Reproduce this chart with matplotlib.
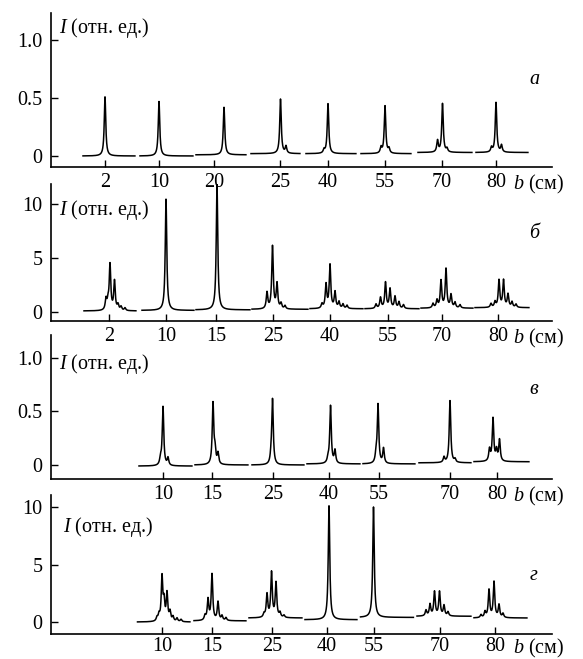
import numpy as np
import matplotlib
matplotlib.use("Agg")
import matplotlib.pyplot as plt

plt.rcParams['font.family'] = ['Liberation Serif', 'DejaVu Serif']
plt.rcParams['mathtext.fontset'] = 'custom'
plt.rcParams['mathtext.rm'] = 'Liberation Serif'
plt.rcParams['mathtext.it'] = 'Liberation Serif:italic'

# ---------------------------------------------------------
# Data: each panel = row of short profiles, one per distance b
# position units are arbitrary (read along the figure width)
# ---------------------------------------------------------
a_ticks = [105, 159, 214, 280, 328, 385, 442, 496]
a_labels = ['2', '10', '20', '25', '40', '55', '70', '80']
a_seg = [(83, 135), (140, 193), (196, 246), (251, 300), (306, 356), (361, 411), (418, 472), (476, 528)]
a_base = [0.0, 0.0, 0.01, 0.02, 0.02, 0.02, 0.03, 0.03]
a_peaks = [
    [(105, 0.51)],
    [(159, 0.47)],
    [(224, 0.41)],
    [(280.5, 0.47), (286, 0.06)],
    [(324, 0.03), (328, 0.43)],
    [(381, 0.05), (385, 0.41), (389, 0.04)],
    [(437.5, 0.10), (442.5, 0.42), (447, 0.03)],
    [(491.5, 0.04), (496, 0.43), (501.5, 0.06)],
]

b_ticks = [109, 166, 216, 273, 330, 388, 442, 498]
b_labels = ['2', '10', '15', '25', '40', '55', '70', '80']
b_seg = [(84, 136), (142, 194), (196, 250), (252, 308), (310, 363), (365, 419), (421, 473), (475, 529)]
b_base = [0.1, 0.15, 0.2, 0.25, 0.3, 0.3, 0.35, 0.4]
b_peaks = [
    [(106, 1.0), (108, 0.7), (110, 4.2), (114.5, 2.7), (118, 0.5), (121, 0.35), (125, 0.25)],
    [(166, 10.3)],
    [(217, 11.6)],
    [(267, 1.5), (272.5, 5.8), (277, 2.3), (281, 0.5), (285, 0.3)],
    [(322, 0.4), (326, 2.2), (330, 4.0), (335, 1.5), (339, 0.6), (343, 0.4), (347, 0.3)],
    [(376, 0.4), (380.5, 1.0), (385.5, 2.4), (390, 1.8), (395, 1.1), (399, 0.6), (403.5, 0.35)],
    [(433, 0.4), (437, 0.7), (441, 2.5), (446, 3.6), (451, 1.2), (455, 0.5), (460, 0.3)],
    [(491, 0.35), (495, 0.5), (499, 2.5), (503.5, 2.5), (508, 1.2), (512, 0.5), (516, 0.3)],
]

c_ticks = [163, 212, 273, 329, 379, 450, 497]
c_labels = ['10', '15', '25', '40', '55', '70', '80']
c_seg = [(139, 192), (195, 248), (252, 304), (307, 360), (363, 415), (419, 471), (474, 529)]
c_base = [-0.01, 0.0, 0.0, 0.01, 0.01, 0.02, 0.03]
c_peaks = [
    [(160.5, 0.06), (163, 0.55), (168, 0.07)],
    [(213, 0.57), (215, 0.12), (218, 0.10)],
    [(271, 0.05), (272.5, 0.61)],
    [(328, 0.04), (330.5, 0.54), (335, 0.12)],
    [(376, 0.07), (378, 0.55), (383.5, 0.14)],
    [(444, 0.05), (450, 0.58), (455, 0.03)],
    [(489.5, 0.11), (493, 0.40), (496.5, 0.10), (499.5, 0.20)],
]

d_ticks = [162, 212, 272, 327, 374, 440, 495]
d_labels = ['10', '15', '25', '40', '55', '70', '80']
d_seg = [(137.5, 190), (194, 246), (249, 302), (305, 357), (360.5, 413.5), (417, 471), (474, 527)]
d_base = [0.0, 0.1, 0.35, 0.2, 0.4, 0.5, 0.35]
d_peaks = [
    [(157, 0.3), (159, 0.5), (162, 3.8), (164, 1.6), (167, 2.4), (170, 0.8), (173, 0.4), (177, 0.3), (181, 0.2)],
    [(205, 0.4), (208, 1.8), (212, 4.0), (218, 1.6), (222, 0.4), (226, 0.25)],
    [(264, 0.3), (267, 2.0), (271.5, 3.9), (276, 3.0), (280, 0.4), (284, 0.2)],
    [(329, 9.9)],
    [(373.5, 9.6)],
    [(426, 0.5), (430, 1.0), (434.5, 2.1), (439.5, 2.1), (444, 0.9), (448, 0.35)],
    [(481, 0.25), (485, 0.5), (489, 2.4), (494, 3.1), (499, 1.1), (503, 0.35)],
]

panels = [
    dict(ticks=a_ticks, labels=a_labels, seg=a_seg, base=a_base, peaks=a_peaks,
         yticks=[0, 0.5, 1.0], yticklabels=['0', '0.5', '1.0'], ylim=(-0.095, 1.233),
         box=(13, 167), letter='а', letter_y=80, ylab_xy=(59, 28), xpad=4),
    dict(ticks=b_ticks, labels=b_labels, seg=b_seg, base=b_base, peaks=b_peaks,
         yticks=[0, 5, 10], yticklabels=['0', '5', '10'], ylim=(-0.83, 11.85),
         box=(184, 321), letter='б', letter_y=233, ylab_xy=(59, 210), xpad=4),
    dict(ticks=c_ticks, labels=c_labels, seg=c_seg, base=c_base, peaks=c_peaks,
         yticks=[0, 0.5, 1.0], yticklabels=['0', '0.5', '1.0'], ylim=(-0.131, 1.215),
         box=(335, 479), letter='в', letter_y=390, ylab_xy=(59, 364), xpad=4),
    dict(ticks=d_ticks, labels=d_labels, seg=d_seg, base=d_base, peaks=d_peaks,
         yticks=[0, 5, 10], yticklabels=['0', '5', '10'], ylim=(-1.04, 11.04),
         box=(495, 634), letter='г', letter_y=575, ylab_xy=(63, 527), xpad=2),
]

W, H = 583, 659
FS = 14.5
fig = plt.figure(figsize=(W / 100, H / 100), dpi=100)


def profile(x, base, peaks, width=0.9):
    y = np.full_like(x, base)
    for x0, h in peaks:
        y += h / (1 + ((x - x0) / width) ** 2)
    return y


for p in panels:
    top, bot = p['box']
    ax = fig.add_axes([51 / W, 1 - bot / H, 501 / W, (bot - top) / H])
    ax.patch.set_visible(False)
    for (x0, x1), base, pk in zip(p['seg'], p['base'], p['peaks']):
        x = np.arange(x0, x1, 0.1)
        ax.plot(x, profile(x, base, pk), color='black', lw=1.1)
    ax.set_xlim(51, 552)
    ax.set_ylim(*p['ylim'])
    ax.spines['top'].set_visible(False)
    ax.spines['right'].set_visible(False)
    ax.spines['left'].set_linewidth(1.2)
    ax.spines['bottom'].set_linewidth(1.2)
    ax.set_xticks(p['ticks'])
    ax.set_xticklabels(p['labels'])
    ax.set_yticks(p['yticks'])
    ax.set_yticklabels(p['yticklabels'])
    ax.tick_params(direction='in', length=5, width=1.0, labelsize=FS, pad=6)
    ax.tick_params(axis='x', pad=p['xpad'])
    ax.annotate(r'$b$ (см)', xy=(513, 0), xycoords=('data', 'axes fraction'),
                xytext=(0, -p['xpad']), textcoords='offset points',
                ha='left', va='top', fontsize=FS)
    fig.text(534 / W, 1 - p['letter_y'] / H, p['letter'], fontsize=FS,
             style='italic', ha='center', va='center')
    lx, ly = p['ylab_xy']
    fig.text(lx / W, 1 - ly / H, r'$I$ (отн. ед.)', fontsize=FS,
             ha='left', va='center')

fig.savefig('out.png', dpi=100)
